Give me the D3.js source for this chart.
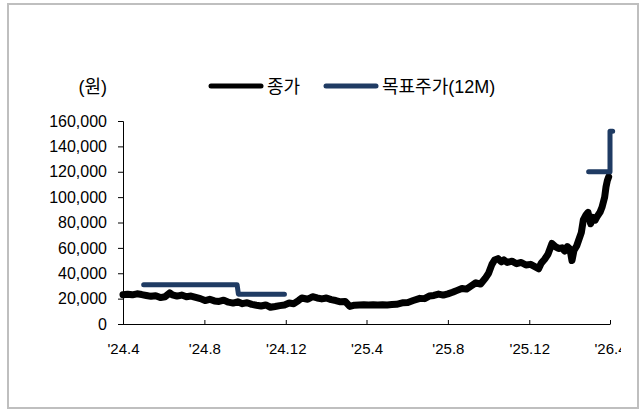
<!DOCTYPE html>
<html><head><meta charset="utf-8">
<script src="https://cdn.jsdelivr.net/npm/d3@7"></script>
<style>
html,body{margin:0;padding:0;background:#fff;}
svg{display:block;}
text{font-family:"Liberation Sans",Arial,"Noto Sans CJK KR",sans-serif;fill:#000;}
</style></head>
<body>
<svg id="c" width="639" height="409"></svg>
<script>
// ---- data ----
const priceDates = ["2024-04-01","2024-04-08","2024-04-15","2024-04-22","2024-04-29","2024-05-06","2024-05-13","2024-05-20","2024-05-27","2024-06-03","2024-06-10","2024-06-14","2024-06-21","2024-06-28","2024-07-05","2024-07-12","2024-07-19","2024-07-26","2024-08-02","2024-08-09","2024-08-16","2024-08-23","2024-08-30","2024-09-06","2024-09-13","2024-09-20","2024-09-27","2024-10-04","2024-10-11","2024-10-18","2024-10-25","2024-11-01","2024-11-08","2024-11-15","2024-11-22","2024-11-29","2024-12-06","2024-12-13","2024-12-20","2024-12-25",
"2025-01-03","2025-01-10","2025-01-17","2025-01-24","2025-01-31","2025-02-07","2025-02-14","2025-02-21","2025-02-28","2025-03-07","2025-03-14","2025-03-21","2025-03-28","2025-04-04","2025-04-11","2025-04-18","2025-04-25","2025-05-02","2025-05-09","2025-05-16","2025-05-26","2025-06-02","2025-06-10","2025-06-20","2025-06-27","2025-07-04","2025-07-11","2025-07-18","2025-07-25","2025-08-01","2025-08-08","2025-08-15","2025-08-22","2025-08-29","2025-09-05","2025-09-12","2025-09-19","2025-09-26","2025-10-01","2025-10-06","2025-10-10","2025-10-15","2025-10-20","2025-10-24","2025-10-29","2025-11-05","2025-11-12","2025-11-19","2025-11-26","2025-12-03","2025-12-10","2025-12-15","2025-12-19","2025-12-24","2025-12-29",
"2026-01-04","2026-01-09","2026-01-14","2026-01-19","2026-01-23","2026-01-27","2026-01-31","2026-02-03","2026-02-06","2026-02-10","2026-02-13","2026-02-17","2026-02-20","2026-02-24","2026-02-27","2026-03-03","2026-03-06","2026-03-10","2026-03-13","2026-03-17","2026-03-20","2026-03-24","2026-03-26","2026-03-28","2026-03-30"];
const priceValues = [23000,23500,23000,23800,23200,22500,21800,22300,20800,21500,24500,23000,22000,22800,21500,22000,21000,20000,18500,19500,18200,17800,18800,17200,16500,17500,16000,16800,15500,14800,14200,15000,13200,13800,14500,15000,16500,16000,18500,20500,
19500,21500,20500,19800,20500,19200,18500,17500,17800,13800,14800,15000,15200,15000,15100,15000,15200,15000,15300,15500,16800,17000,18500,20200,20000,22000,22500,23600,22800,23800,25000,26500,28000,27500,30000,32500,31500,36000,40000,47000,50500,51500,49000,50500,48500,49500,47500,48500,46500,47000,45000,43500,48000,51000,55000,
63500,61000,59500,60000,57500,61000,59000,50000,58000,61500,66000,72000,82000,86000,88000,79000,84000,82000,85000,88000,92000,100000,108000,113000,116000];

const targetSegments = [
  {dates:["2024-05-02","2024-09-19","2024-09-21","2024-11-29"], values:[31000,31000,23500,23500]},
  {dates:["2026-02-28","2026-04-01","2026-04-01","2026-04-05"], values:[120000,120000,152000,152000]}
];

const yTicks = [0,20000,40000,60000,80000,100000,120000,140000,160000];
const xTickDates = ["2024-04-01","2024-08-01","2024-12-01","2025-04-01","2025-08-01","2025-12-01","2026-04-01"];
const xTickLabels = ["'24.4","'24.8","'24.12","'25.4","'25.8","'25.12","'26.4"];
const seriesNames = ["종가","목표주가(12M)"];
const seriesColors = ["#000000","#1f3b63"];
const unitLabel = "(원)";

// ---- drawing ----
const parse = d3.timeParse("%Y-%m-%d");
const svg = d3.select("#c");

svg.append("rect").attr("x",8).attr("y",4).attr("width",630).attr("height",404)
  .attr("fill","#fff").attr("stroke","#bfbfbf").attr("stroke-width",2);

const x = d3.scaleTime().domain([parse("2024-04-01"), parse("2026-04-01")]).range([123,610]);
const y = d3.scaleLinear().domain([0,160000]).range([324,121]);

// y axis
const yAxis = d3.axisLeft(y).tickValues(yTicks).tickSize(5).tickPadding(11)
  .tickFormat(d3.format(","));
const gy = svg.append("g").attr("transform","translate(123,0)").call(yAxis);
gy.select(".domain").attr("stroke","#000").attr("d","M-5,121.5H0.5V324");
gy.selectAll(".tick line").attr("stroke","#000");
gy.selectAll("text").style("font-size","16px").style("font-family","'Liberation Sans',Arial,sans-serif").attr("fill","#000");

// x axis (clipped at the right like the original)
svg.append("clipPath").attr("id","xclip").attr("clipPathUnits","userSpaceOnUse")
  .append("rect").attr("x",0).attr("y",-10).attr("width",621).attr("height",60);
const xAxis = d3.axisBottom(x).tickValues(xTickDates.map(parse)).tickSize(-4).tickPadding(19)
  .tickFormat((d,i)=>xTickLabels[i]);
const gx = svg.append("g").attr("transform","translate(0,324)").attr("clip-path","url(#xclip)").call(xAxis);
gx.select(".domain").attr("stroke","#000").attr("d","M123,0.5H610.5");
gx.selectAll(".tick line").attr("stroke","#000");
gx.selectAll("text").style("font-size","15px").style("font-family","'Liberation Sans',Arial,sans-serif").attr("fill","#000");

// price line
const line = d3.line().x(d=>x(d[0])).y(d=>y(d[1]));
const priceData = priceDates.map((d,i)=>[parse(d), priceValues[i]]);
svg.append("path").datum(priceData).attr("d",line).attr("fill","none")
  .attr("stroke",seriesColors[0]).attr("stroke-width",7).attr("stroke-linejoin","round").attr("stroke-linecap","round");

// target price
targetSegments.forEach(seg=>{
  const data = seg.dates.map((d,i)=>[parse(d), seg.values[i]]);
  svg.append("path").datum(data).attr("d",line).attr("fill","none")
    .attr("stroke",seriesColors[1]).attr("stroke-width",5).attr("stroke-linejoin","round").attr("stroke-linecap","round");
});

// unit label
svg.append("text").attr("x",107).attr("y",93).attr("text-anchor","end").style("font-size","18px").text(unitLabel);

// legend
const legend = [{x1:211,x2:261,tx:267},{x1:326,x2:376,tx:382}];
legend.forEach((l,i)=>{
  svg.append("line").attr("x1",l.x1).attr("x2",l.x2).attr("y1",86).attr("y2",86)
    .attr("stroke",seriesColors[i]).attr("stroke-width",5).attr("stroke-linecap","round");
  svg.append("text").attr("x",l.tx).attr("y",93).style("font-size","18px").text(seriesNames[i]);
});
</script>
</body></html>
